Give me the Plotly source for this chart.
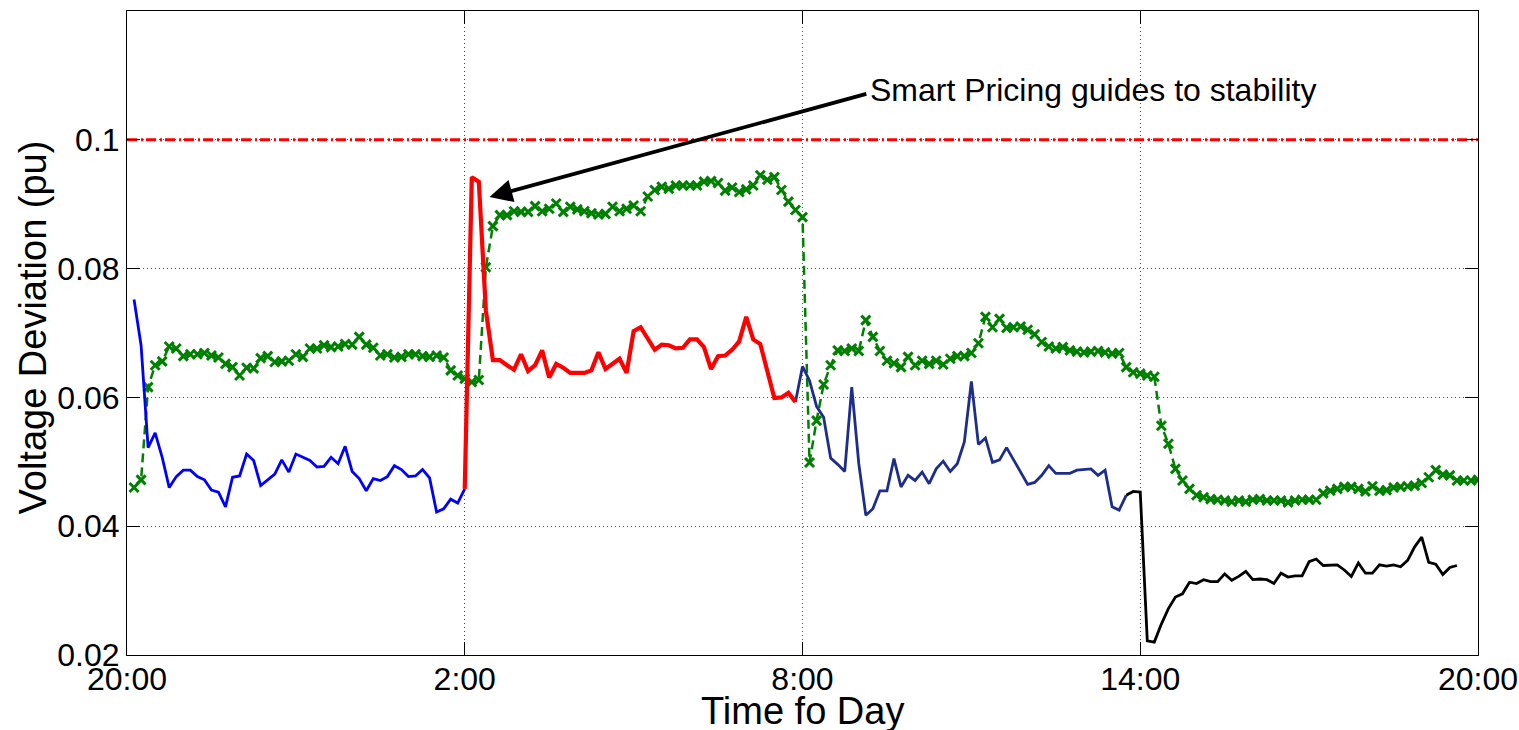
import plotly.graph_objects as go

# ---------------- data ----------------
step_h = 0.125  # 7.5-minute sampling, hours after 20:00

tick_hours = [0, 6, 12, 18, 24]
tick_labels = ["20:00", "2:00", "8:00", "14:00", "20:00"]
y_ticks = [0.02, 0.04, 0.06, 0.08, 0.1]
y_tick_labels = ["0.02", "0.04", "0.06", "0.08", "0.1"]

# segment start indices (sample number)
blue_start, red_start, navy_start, black_start, green_start = 1, 48, 95, 142, 1

blue_vals = [0.0752, 0.0681, 0.0522, 0.0545, 0.0507, 0.0460, 0.0477, 0.0487, 0.0487, 0.0477,
             0.0472, 0.0456, 0.0453, 0.0430, 0.0476, 0.0478, 0.0512, 0.0502, 0.0463, 0.0472,
             0.0481, 0.0503, 0.0484, 0.0512, 0.0507, 0.0502, 0.0492, 0.0493, 0.0507, 0.0497,
             0.0524, 0.0485, 0.0474, 0.0455, 0.0474, 0.0471, 0.0477, 0.0494, 0.0488, 0.0477,
             0.0478, 0.0488, 0.0475, 0.0422, 0.0427, 0.0442, 0.0436, 0.0458]

red_vals = [0.0458, 0.0942, 0.0935, 0.0735, 0.0658, 0.0658, 0.0650, 0.0643, 0.0667, 0.0641,
            0.0650, 0.0673, 0.0631, 0.0652, 0.0646, 0.0638, 0.0638, 0.0638, 0.0642, 0.0670,
            0.0644, 0.0652, 0.0660, 0.0638, 0.0703, 0.0709, 0.0691, 0.0674, 0.0682, 0.0681,
            0.0676, 0.0677, 0.0690, 0.0690, 0.0678, 0.0644, 0.0664, 0.0665, 0.0674, 0.0687,
            0.0725, 0.0690, 0.0683, 0.0639, 0.0599, 0.0600, 0.0607, 0.0593]

navy_vals = [0.0593, 0.0648, 0.0626, 0.0586, 0.0569, 0.0506, 0.0496, 0.0485, 0.0616, 0.0497,
             0.0417, 0.0427, 0.0455, 0.0455, 0.0505, 0.0461, 0.0479, 0.0471, 0.0484, 0.0466,
             0.0489, 0.0501, 0.0485, 0.0497, 0.0531, 0.0625, 0.0527, 0.0537, 0.0499, 0.0503,
             0.0522, 0.0503, 0.0484, 0.0465, 0.0468, 0.0479, 0.0494, 0.0482, 0.0482, 0.0482,
             0.0487, 0.0488, 0.0489, 0.0479, 0.0487, 0.0430, 0.0425, 0.0448]

black_vals = [0.0448, 0.0454, 0.0453, 0.0222, 0.0220, 0.0248, 0.0272, 0.0290, 0.0295, 0.0313,
              0.0311, 0.0317, 0.0314, 0.0314, 0.0326, 0.0316, 0.0322, 0.0330, 0.0317, 0.0318,
              0.0317, 0.0311, 0.0327, 0.0321, 0.0323, 0.0323, 0.0345, 0.0349, 0.0339, 0.0339,
              0.0340, 0.0332, 0.0322, 0.0343, 0.0327, 0.0327, 0.0340, 0.0338, 0.0340, 0.0337,
              0.0347, 0.0368, 0.0383, 0.0344, 0.0341, 0.0325, 0.0336, 0.0339]

green_vals = [0.0460, 0.0472, 0.0616, 0.0650, 0.0656, 0.0679, 0.0676, 0.0664, 0.0667, 0.0667,
              0.0669, 0.0665, 0.0662, 0.0652, 0.0647, 0.0634, 0.0646, 0.0645, 0.0661, 0.0664,
              0.0655, 0.0656, 0.0657, 0.0667, 0.0663, 0.0676, 0.0676, 0.0681, 0.0678, 0.0679,
              0.0683, 0.0682, 0.0694, 0.0682, 0.0677, 0.0665, 0.0667, 0.0662, 0.0663, 0.0667,
              0.0667, 0.0664, 0.0663, 0.0665, 0.0662, 0.0642, 0.0634, 0.0629, 0.0624, 0.0627,
              0.0802, 0.0866, 0.0883, 0.0883, 0.0889, 0.0888, 0.0888, 0.0897, 0.0889, 0.0893,
              0.0901, 0.0888, 0.0896, 0.0892, 0.0889, 0.0886, 0.0884, 0.0885, 0.0896, 0.0889,
              0.0893, 0.0898, 0.0889, 0.0912, 0.0922, 0.0927, 0.0924, 0.0929, 0.0929, 0.0929,
              0.0929, 0.0935, 0.0936, 0.0933, 0.0921, 0.0926, 0.0919, 0.0923, 0.0929, 0.0945,
              0.0938, 0.0942, 0.0922, 0.0904, 0.0891, 0.0880, 0.0499, 0.0564, 0.0620, 0.0650,
              0.0673, 0.0672, 0.0676, 0.0672, 0.0720, 0.0694, 0.0672, 0.0657, 0.0653, 0.0647,
              0.0663, 0.0650, 0.0657, 0.0652, 0.0657, 0.0651, 0.0660, 0.0664, 0.0664, 0.0669,
              0.0684, 0.0725, 0.0709, 0.0722, 0.0708, 0.0709, 0.0710, 0.0705, 0.0698, 0.0686,
              0.0679, 0.0676, 0.0678, 0.0673, 0.0671, 0.0670, 0.0671, 0.0672, 0.0670, 0.0668,
              0.0669, 0.0647, 0.0639, 0.0637, 0.0634, 0.0632, 0.0556, 0.0528, 0.0489, 0.0471,
              0.0458, 0.0448, 0.0445, 0.0442, 0.0441, 0.0440, 0.0438, 0.0440, 0.0438, 0.0441,
              0.0442, 0.0440, 0.0440, 0.0440, 0.0437, 0.0440, 0.0441, 0.0441, 0.0441, 0.0451,
              0.0455, 0.0458, 0.0461, 0.0461, 0.0458, 0.0454, 0.0462, 0.0455, 0.0456, 0.0460,
              0.0461, 0.0462, 0.0463, 0.0467, 0.0476, 0.0487, 0.0480, 0.0479, 0.0471, 0.0471,
              0.0471, 0.0472]

threshold = 0.1
annotation_text = "Smart Pricing guides to stability"
arrow_head = (6.44, 0.0911)
arrow_tail = (13.16, 0.1072)
label_pos = (13.16, 0.1077)


def times(start, n):
    return [(start + i) * step_h for i in range(n)]


FONT = "Liberation Sans, Arial, Helvetica, sans-serif"

fig = go.Figure()

fig.add_trace(go.Scatter(x=[tick_hours[0], tick_hours[-1]], y=[threshold, threshold],
                         mode="lines", line=dict(color="#ff0000", width=3, dash="10px,4px,2px,3px"),
                         showlegend=False, hoverinfo="skip"))

fig.add_trace(go.Scatter(x=times(green_start, len(green_vals)), y=green_vals, mode="lines+markers",
                         line=dict(color="#008000", width=2.5, dash="9px,5px"),
                         marker=dict(symbol="x-thin-open", size=9, color="#008000",
                                     line=dict(color="#008000", width=3)),
                         showlegend=False))

fig.add_trace(go.Scatter(x=times(blue_start, len(blue_vals)), y=blue_vals, mode="lines",
                         line=dict(color="#0000ff", width=2.8), showlegend=False))
fig.add_trace(go.Scatter(x=times(navy_start, len(navy_vals)), y=navy_vals, mode="lines",
                         line=dict(color="rgb(28,45,140)", width=2.8), showlegend=False))
fig.add_trace(go.Scatter(x=times(black_start, len(black_vals)), y=black_vals, mode="lines",
                         line=dict(color="#000000", width=2.8), showlegend=False))
fig.add_trace(go.Scatter(x=times(red_start, len(red_vals)), y=red_vals, mode="lines",
                         line=dict(color="#ff0000", width=4.2), showlegend=False))

axis_common = dict(showline=True, linecolor="black", linewidth=1, mirror="ticks",
                   ticks="inside", ticklen=13, tickcolor="black", tickwidth=1,
                   showgrid=True, gridcolor="#555555", gridwidth=1, griddash="1px,3px",
                   zeroline=False, ticklabeloverflow="allow",
                   tickfont=dict(family=FONT, size=32, color="black"))

fig.update_xaxes(range=[tick_hours[0], tick_hours[-1]], tickvals=tick_hours, ticktext=tick_labels,
                 ticklabelstandoff=-4, **axis_common)
fig.update_yaxes(range=[0.02, 0.12], tickvals=y_ticks, ticktext=y_tick_labels, **axis_common)

fig.add_annotation(x=arrow_head[0], y=arrow_head[1], ax=arrow_tail[0], ay=arrow_tail[1],
                   xref="x", yref="y", axref="x", ayref="y", text="", showarrow=True,
                   arrowhead=2, arrowsize=1.2, arrowwidth=3.8, arrowcolor="black")
fig.add_annotation(x=label_pos[0], y=label_pos[1], xref="x", yref="y", text=annotation_text,
                   showarrow=False, xanchor="left", yanchor="middle",
                   font=dict(family=FONT, size=32, color="black"))

fig.add_annotation(x=0.5, y=-0.051, xref="paper", yref="paper", text="Time fo Day",
                   showarrow=False, xanchor="center", yanchor="top",
                   font=dict(family=FONT, size=38, color="black"))
fig.add_annotation(x=-0.0696, y=0.5085, xref="paper", yref="paper", text="Voltage Deviation (pu)",
                   showarrow=False, xanchor="center", yanchor="middle", textangle=-90,
                   font=dict(family=FONT, size=38, color="black"))

fig.update_layout(width=1519, height=730, margin=dict(l=127, r=41, t=11, b=75, autoexpand=False),
                  plot_bgcolor="white", paper_bgcolor="white", showlegend=False)

fig.write_html("out.html", config={"displayModeBar": False},
               post_script="document.body.style.margin='0';document.body.style.overflow='hidden';")
